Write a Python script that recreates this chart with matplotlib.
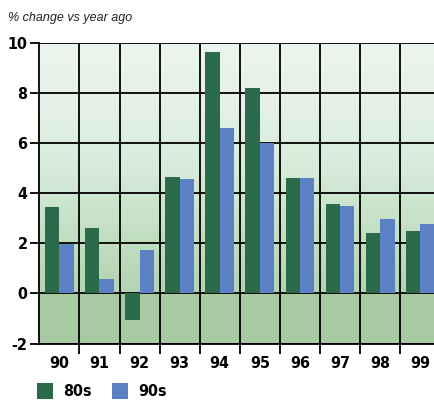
import numpy as np
import matplotlib
matplotlib.use("Agg")
import matplotlib.pyplot as plt
from matplotlib.patches import Patch
from matplotlib.colors import LinearSegmentedColormap
from matplotlib.font_manager import FontProperties

# Year-over-year percentage change, by year of decade
years = ["90", "91", "92", "93", "94", "95", "96", "97", "98", "99"]
eighties = [3.45, 2.6, -1.08, 4.67, 9.64, 8.2, 4.6, 3.56, 2.4, 2.5]
nineties = [1.96, 0.56, 1.73, 4.56, 6.6, 6.0, 4.6, 3.51, 2.96, 2.79]
y_ticks = [-2, 0, 2, 4, 6, 8, 10]
series_names = ["80s", "90s"]

GREEN = "#2b6a4b"
BLUE = "#5b80c3"


def label_props(size=11):
    return FontProperties(family="DejaVu Sans", weight="bold",
                          stretch="condensed", size=size)


W, H, DPI = 435, 401, 100
fig = plt.figure(figsize=(W / DPI, H / DPI), dpi=DPI)
fig.patch.set_facecolor("white")

# Plot area: left edge at 39px, -2 at 343.5px, 10 at 43.3px; runs past the right edge
ax = fig.add_axes([39.3 / W, (H - 343.5) / H, 401 / W, 300.2 / H])
ax.set_xlim(-0.5, 9.5)
ax.set_ylim(-2, 10)

# Background: soft vertical gradient above zero, flat green below
grad = LinearSegmentedColormap.from_list(
    "bg", ["#b3d3b1", "#c4e0c4", "#d7ebdb", "#e4f1e8", "#ecf5ef"])
ys = np.linspace(0, 1, 256).reshape(-1, 1)
ax.imshow(ys, extent=(-0.5, 9.5, 0, 10), origin="lower", aspect="auto",
          cmap=grad, zorder=0)
ax.axhspan(-2, 0, color="#a7caa3", zorder=0.5, lw=0)

# Grid lines
for yv in y_ticks:
    ax.axhline(yv, color="black", lw=1.3, zorder=1)
for xv in np.arange(0.5, 9.5, 1.0):
    ax.axvline(xv, color="black", lw=1.3, zorder=1)

# Bars
x = np.arange(len(years))
bw = 0.36
ax.bar(x - bw / 2, eighties, width=bw, color=GREEN, zorder=2, lw=0)
ax.bar(x + bw / 2, nineties, width=bw, color=BLUE, zorder=2, lw=0)

# Spines
for s in ["top", "right"]:
    ax.spines[s].set_visible(False)
ax.spines["left"].set_linewidth(1.3)
ax.spines["bottom"].set_linewidth(1.3)

# Ticks
ax.set_yticks(y_ticks)
ax.set_yticklabels([str(v) for v in y_ticks])
ax.tick_params(axis="y", direction="out", length=6.5, width=1.3, pad=2)
ax.set_xticks(x)
ax.set_xticklabels(years)
ax.set_xticks(np.arange(0.5, 9.5, 1.0), minor=True)
ax.tick_params(axis="x", which="major", length=0, pad=9)
ax.tick_params(axis="x", which="minor", direction="out", length=7, width=1.3)
for lab in ax.get_xticklabels() + ax.get_yticklabels():
    lab.set_fontproperties(label_props(11.5))

# Axis caption
fig.text(8 / W, 1 - 18 / H, "% change vs year ago", fontsize=9,
         style="italic", family=["Liberation Sans", "DejaVu Sans"],
         color="#222222", va="center", ha="left")

# Legend
handles = [Patch(facecolor=GREEN, edgecolor="none"),
           Patch(facecolor=BLUE, edgecolor="none")]
fig.legend(handles, series_names, loc="lower left",
           bbox_to_anchor=(31 / W, -0.012), ncol=2, frameon=False,
           handlelength=1.0, handleheight=1.15, handletextpad=0.6,
           columnspacing=1.3, borderaxespad=0.0,
           prop=label_props(11.5))

fig.savefig("out.png", dpi=DPI)
